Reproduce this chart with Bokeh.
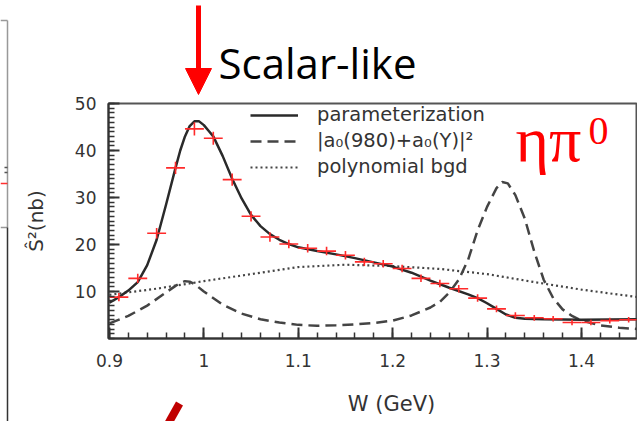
from bokeh.plotting import figure
from bokeh.layouts import row, column
from bokeh.models import Range1d, FixedTicker, Legend, LegendItem
from bokeh.core.properties import value
from bokeh.embed import file_html
from bokeh.resources import INLINE
import numpy as np

# measured S^2 cross section (nb) vs W (GeV), with bin half-width and errors
w_data = [0.91, 0.93, 0.95, 0.97, 0.99, 1.01, 1.03, 1.05, 1.07, 1.09,
          1.11, 1.13, 1.15, 1.17, 1.19, 1.21, 1.23, 1.25, 1.27, 1.29,
          1.31, 1.33, 1.35, 1.37, 1.39, 1.41, 1.43, 1.45]
s2_data = [8.8, 12.8, 22.4, 36.3, 44.6, 42.6, 33.8, 26.0, 21.6, 20.1,
           19.2, 18.6, 17.7, 16.3, 15.9, 14.9, 12.8, 11.7, 10.6, 8.6,
           6.3, 4.9, 4.4, 4.2, 3.4, 3.4, 3.8, 4.0]
s2_err = [0.9, 1.0, 1.1, 1.3, 1.4, 1.4, 1.3, 1.1, 1.0, 0.9,
          0.9, 0.9, 0.9, 0.9, 0.8, 0.8, 0.8, 0.8, 0.8, 0.8,
          0.7, 0.7, 0.6, 0.6, 0.6, 0.6, 0.6, 0.6]
w_halfbin = 0.01

# full parameterization
w_fit = [0.90, 0.91, 0.92, 0.93, 0.94, 0.95, 0.96, 0.97, 0.975, 0.98, 0.985,
         0.99, 0.995, 1.00, 1.005, 1.01, 1.02, 1.03, 1.04, 1.05, 1.06, 1.07,
         1.08, 1.09, 1.10, 1.12, 1.14, 1.16, 1.18, 1.20, 1.22, 1.24, 1.26,
         1.28, 1.29, 1.30, 1.31, 1.32, 1.33, 1.34, 1.36, 1.40, 1.46]
s2_fit = [7.6, 8.8, 10.2, 12.0, 15.6, 21.0, 28.5, 36.3, 40.0, 43.0, 45.2,
          46.2, 46.2, 45.4, 44.2, 43.0, 38.8, 34.0, 29.8, 26.3, 23.9, 22.2,
          21.0, 20.1, 19.4, 18.6, 17.9, 17.1, 16.2, 15.3, 14.0, 12.3, 10.8,
          9.4, 8.6, 7.5, 6.3, 5.1, 4.4, 4.2, 4.1, 4.0, 4.1]

# |a0(980) + a0(Y)|^2 resonance part
w_res = [0.90, 0.92, 0.94, 0.96, 0.97, 0.975, 0.98, 0.985, 0.99, 1.00, 1.02,
         1.04, 1.06, 1.08, 1.10, 1.12, 1.14, 1.16, 1.18, 1.20, 1.22, 1.24,
         1.25, 1.26, 1.27, 1.28, 1.29, 1.30, 1.31, 1.316, 1.322, 1.33, 1.34,
         1.35, 1.36, 1.37, 1.38, 1.39, 1.40, 1.42, 1.44, 1.46]
s2_res = [3.2, 4.8, 7.0, 9.8, 11.2, 11.8, 12.2, 12.1, 11.6, 10.0, 7.2,
          5.3, 4.1, 3.4, 2.9, 2.7, 2.8, 3.0, 3.3, 3.8, 4.9, 6.6,
          7.8, 9.8, 12.5, 16.8, 23.0, 28.0, 32.0, 33.3, 33.0, 30.5, 25.5,
          18.5, 12.5, 8.6, 6.2, 4.8, 3.8, 2.8, 2.3, 2.0]

# polynomial background
w_bgd = [0.90, 0.95, 1.00, 1.05, 1.10, 1.15, 1.20, 1.25, 1.30, 1.35, 1.40, 1.46]
s2_bgd = [9.3, 10.6, 12.2, 13.7, 15.2, 15.7, 15.4, 14.8, 13.7, 12.0, 10.4, 8.8]

x_ticks = [0.9, 1.0, 1.1, 1.2, 1.3, 1.4]
x_tick_labels = ["0.9", "1", "1.1", "1.2", "1.3", "1.4"]
y_ticks = [10, 20, 30, 40, 50]

AX_FONT = "DejaVu Sans"
INK = "#333333"
RED = "#ff0000"


def no_align(f):
    if hasattr(f, "frame_align"):
        f.frame_align = False
    return f


def blank(w, h, xr, yr, left=0, right=0):
    """Axis-less strip whose ranges are page pixels (y growing downward)."""
    f = figure(width=w, height=h, x_range=Range1d(*xr), y_range=Range1d(*yr),
               x_axis_location=None, y_axis_location=None, min_border=0,
               min_border_left=left, min_border_right=right,
               output_backend="svg", toolbar_location=None)
    f.outline_line_color = None
    f.grid.visible = False
    return no_align(f)


# ---- main panel -------------------------------------------------------
p = figure(width=625, height=293, output_backend="svg", toolbar_location=None,
           x_range=Range1d(0.899, 1.4583), y_range=Range1d(0, 50),
           min_border_left=96, min_border_right=1, min_border_top=8,
           min_border_bottom=50)
no_align(p)
p.grid.visible = False
p.outline_line_color = "#555555"
p.outline_line_width = 2

xa = p.xaxis[0]
xa.ticker = FixedTicker(ticks=x_ticks,
                        minor_ticks=list(np.round(np.arange(0.90, 1.47, 0.02), 2)))
xa.major_label_overrides = dict(zip(x_ticks, x_tick_labels))
ya = p.yaxis[0]
ya.ticker = FixedTicker(ticks=y_ticks, minor_ticks=list(range(0, 51)))
ya.axis_label = "Ŝ²(nb)"
ya.axis_label_standoff = 24
for ax in (xa, ya):
    ax.major_tick_in = 11
    ax.major_tick_out = 0
    ax.minor_tick_in = 6
    ax.minor_tick_out = 0
    ax.axis_line_color = INK
    ax.axis_line_width = 2
    ax.major_tick_line_color = INK
    ax.major_tick_line_width = 2
    ax.minor_tick_line_color = INK
    ax.minor_tick_line_width = 1.5
    ax.major_label_text_font = AX_FONT
    ax.major_label_text_font_size = "17px"
    ax.major_label_text_color = INK
    ax.axis_label_text_font = AX_FONT
    ax.axis_label_text_font_size = "20px"
    ax.axis_label_text_font_style = "normal"
    ax.axis_label_text_color = INK
xa.major_label_standoff = 15
ya.major_label_standoff = 12

r_bgd = p.line(w_bgd, s2_bgd, line_color="#444444", line_width=2.2, line_dash="2 3")
r_res = p.line(w_res, s2_res, line_color="#444444", line_width=2.5, line_dash="11 6")
r_fit = p.line(w_fit, s2_fit, line_color="#2a2a2a", line_width=2.5)

wd = np.array(w_data)
sd = np.array(s2_data)
se = np.array(s2_err)
p.segment(wd - w_halfbin, sd, wd + w_halfbin, sd, line_color="#ff2a2a", line_width=1.6)
p.segment(wd, sd - se, wd, sd + se, line_color="#ff2a2a", line_width=1.6)

legend = Legend(items=[
    LegendItem(label="parameterization", renderers=[r_fit]),
    LegendItem(label="|a₀(980)+a₀(Y)|²", renderers=[r_res]),
    LegendItem(label="polynomial bgd", renderers=[r_bgd]),
], location=(142, 160), orientation="vertical",
    label_text_font=AX_FONT, label_text_font_size="19.5px", label_text_color=INK,
    glyph_width=48, glyph_height=20, label_height=20, label_standoff=19,
    spacing=3, padding=0, margin=0, border_line_color=None,
    background_fill_alpha=0)
p.add_layout(legend)

# channel tag in the upper right of the panel
p.text(x=[1.3302], y=[42.3], text=["ηπ"], text_font=value("Liberation Serif"),
       text_font_size="64px", text_color=RED, text_baseline="alphabetic")
p.text(x=[1.4075], y=[44.1], text=["0"], text_font=value("Liberation Serif"),
       text_font_size="40px", text_color=RED, text_baseline="alphabetic")

# ---- strip above: peak marker (frame spans page x 108..636) --------------
top = blank(625, 95, (108, 636), (95, 0), left=96, right=1)
top.segment(x0=[198], y0=[5], x1=[198], y1=[72], line_color=RED, line_width=5)
top.patch(x=[185, 211, 198], y=[68, 68, 94], fill_color=RED, line_color=RED)
top.text(x=[218], y=[62], text=["Scalar-like"], text_font=value("Open Sans"),
         text_font_size="42px", text_color="black", text_baseline="alphabetic")

# ---- strip below: axis title and red stroke ------------------------------
bottom = blank(625, 33, (108, 636), (421, 388), left=96, right=1)
bottom.text(x=[391], y=[403], text=["W (GeV)"], text_font=value(AX_FONT),
            text_font_size="21px", text_color=INK, text_align="center",
            text_baseline="alphabetic")
bottom.segment(x0=[165], y0=[428], x1=[179], y1=[403], line_color="#c00000",
               line_width=8)

# ---- strip at the left: edge of the neighbouring panel -------------------
edge = blank(12, 421, (0, 12), (421, 0))
edge.segment(x0=[7, 0, 0], y0=[20, 20, 227], x1=[7, 7, 7], y1=[227, 20, 227],
             line_color="#999999", line_width=1.5)
edge.segment(x0=[7], y0=[227], x1=[7], y1=[421], line_color="#333333", line_width=1.5)
edge.segment(x0=[4, 4], y0=[167, 172], x1=[7, 7], y1=[167, 172],
             line_color="#555555", line_width=1.5)
edge.segment(x0=[0], y0=[183], x1=[7], y1=[183], line_color="#ff3030", line_width=1.5)

layout = row(edge, column(top, p, bottom))
open("out.html", "w").write(file_html(layout, INLINE))
